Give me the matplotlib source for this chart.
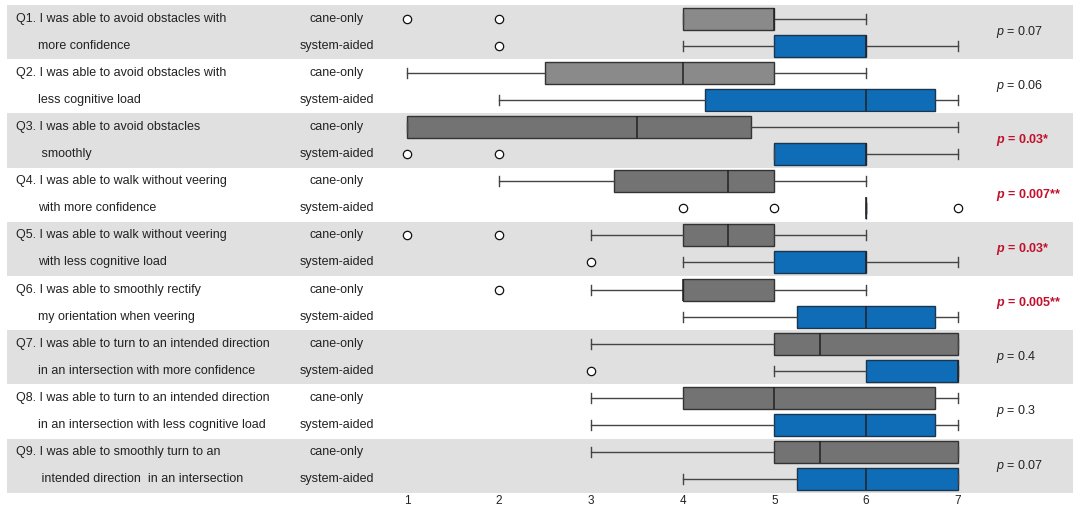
import matplotlib
matplotlib.use("Agg")
import matplotlib.pyplot as plt

plt.rcParams['font.family'] = ['Liberation Sans', 'DejaVu Sans']
plt.rcParams['mathtext.fontset'] = 'custom'
plt.rcParams['mathtext.it'] = 'Liberation Sans:italic'
plt.rcParams['mathtext.bfit'] = 'Liberation Sans:italic:bold'
plt.rcParams['mathtext.rm'] = 'Liberation Sans'

# question labels (two lines each)
line1 = ["Q1. I was able to avoid obstacles with",
         "Q2. I was able to avoid obstacles with",
         "Q3. I was able to avoid obstacles",
         "Q4. I was able to walk without veering",
         "Q5. I was able to walk without veering",
         "Q6. I was able to smoothly rectify",
         "Q7. I was able to turn to an intended direction",
         "Q8. I was able to turn to an intended direction",
         "Q9. I was able to smoothly turn to an"]
line2 = ["more confidence",
         "less cognitive load",
         " smoothly",
         "with more confidence",
         "with less cognitive load",
         "my orientation when veering",
         "in an intersection with more confidence",
         "in an intersection with less cognitive load",
         " intended direction  in an intersection"]

# cane-only box stats
cane_q1 = [4, 2.5, 1, 3.25, 4, 4, 5, 4, 5]
cane_med = [5, 4, 3.5, 4.5, 4.5, 4, 5.5, 5, 5.5]
cane_q3 = [5, 5, 4.75, 5, 5, 5, 7, 6.75, 7]
cane_lo = [4, 1, 1, 2, 3, 3, 3, 3, 3]
cane_hi = [6, 6, 7, 6, 6, 6, 7, 7, 7]
cane_fliers = [[1, 2], [], [], [], [1, 2], [2], [], [], []]

# system-aided box stats
sys_q1 = [5, 4.25, 5, 6, 5, 5.25, 6, 5, 5.25]
sys_med = [6, 6, 6, 6, 6, 6, 7, 6, 6]
sys_q3 = [6, 6.75, 6, 6, 6, 6.75, 7, 6.75, 7]
sys_lo = [4, 2, 5, 6, 4, 4, 5, 3, 4]
sys_hi = [7, 7, 7, 6, 7, 7, 7, 7, 7]
sys_fliers = [[2], [], [1, 2], [4, 5, 7], [3], [], [3], [], []]

p_values = ["0.07", "0.06", "0.03*", "0.007**", "0.03*", "0.005**", "0.4", "0.3", "0.07"]
significant = [False, False, True, True, True, True, False, False, False]

W, H = 1073, 508
fig = plt.figure(figsize=(W / 100, H / 100), dpi=100)
ax = fig.add_axes([7 / W, 15.2 / H, 1066 / W, 487.8 / H])

ppu = (958 - 407) / 6
ax.set_xlim(1 - (407 - 7) / ppu, 7 + (1073 - 958) / ppu)
n = len(line1)
ax.set_ylim(2 * n, 0)

for i in range(n):
    if i % 2 == 0:
        ax.axhspan(2 * i, 2 * i + 2, color='#e0e0e0', zorder=0, lw=0)

def stats(q1, med, q3, lo, hi, fl):
    return [dict(q1=a, med=b, q3=c, whislo=d, whishi=e, fliers=f)
            for a, b, c, d, e, f in zip(q1, med, q3, lo, hi, fl)]

cane = stats(cane_q1, cane_med, cane_q3, cane_lo, cane_hi, cane_fliers)
sysa = stats(sys_q1, sys_med, sys_q3, sys_lo, sys_hi, sys_fliers)

flierprops = dict(marker='o', markerfacecolor='white', markeredgecolor='#111111',
                  markersize=6, markeredgewidth=0.9)
common = dict(orientation='horizontal', widths=0.81, capwidths=0.37, patch_artist=True,
              whiskerprops=dict(color='#444444', lw=1.0),
              capprops=dict(color='#444444', lw=1.0),
              medianprops=dict(color='#222222', lw=1.1),
              flierprops=flierprops, manage_ticks=False)

b1 = ax.bxp(cane, positions=[2 * i + 0.5 for i in range(n)],
            boxprops=dict(edgecolor='#333333', lw=1.0), **common)
for i, box in enumerate(b1['boxes']):
    box.set_facecolor('#8a8a8a' if i < 2 else '#737373')

b2 = ax.bxp(sysa, positions=[2 * i + 1.5 for i in range(n)],
            boxprops=dict(edgecolor='#1a3550', lw=1.0), **common)
for box in b2['boxes']:
    box.set_facecolor('#0f6db8')

x0 = ax.get_xlim()[0]
for i in range(n):
    yc, ys = 2 * i + 0.5, 2 * i + 1.5
    ax.text(x0 + (16 - 7) / ppu, yc, line1[i], fontsize=9, va='center',
            ha='left', color='#222222')
    ax.text(x0 + (38 - 7) / ppu, ys, line2[i], fontsize=9, va='center',
            ha='left', color='#222222')
    ax.text(1 - (407 - 337) / ppu, yc, "cane-only", fontsize=9, va='center', ha='center',
            color='#222222')
    ax.text(1 - (407 - 337) / ppu, ys, "system-aided", fontsize=9, va='center', ha='center',
            color='#222222')
    if significant[i]:
        s = r"$\mathbfit{p}$ = " + p_values[i]
        ax.text(7 + (996 - 958) / ppu, 2 * i + 1, s, fontsize=9, va='center', ha='left',
                color='#c0102c', fontweight='bold')
    else:
        s = r"$\mathit{p}$ = " + p_values[i]
        ax.text(7 + (996 - 958) / ppu, 2 * i + 1, s, fontsize=9, va='center', ha='left',
                color='#222222')

ax.set_xticks([1, 2, 3, 4, 5, 6, 7])
ax.set_yticks([])
ax.tick_params(axis='x', length=0, pad=1.5, labelsize=8.5, labelcolor='#222222')
for sp in ax.spines.values():
    sp.set_visible(False)

fig.savefig("out.png", dpi=100)
